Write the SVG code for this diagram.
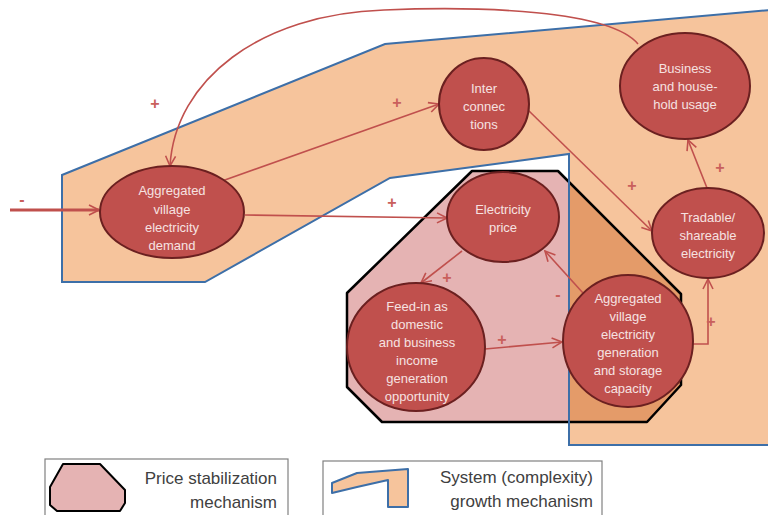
<svg xmlns="http://www.w3.org/2000/svg" width="768" height="515" viewBox="0 0 768 515">
<style>
.node{fill:#C0504D;stroke:#6B2020;stroke-width:2}
.nt{font-family:"Liberation Sans",Arial,sans-serif;font-size:13px;fill:#F6E2E1;text-anchor:middle}
.con{fill:none;stroke:#C0504D;stroke-width:1.6}
.sign{font-family:"Liberation Sans",Arial,sans-serif;font-size:16px;font-weight:bold;fill:#C9605C;text-anchor:middle}
.lg{font-family:"Liberation Sans",Arial,sans-serif;font-size:17px;fill:#404040;text-anchor:end}
</style>
<defs>
<marker id="ah" markerUnits="userSpaceOnUse" markerWidth="12" markerHeight="12" viewBox="0 0 12 12" refX="11" refY="6" orient="auto">
<path d="M1,1 L11,6 L1,11" fill="none" stroke="#C0504D" stroke-width="1.6"/>
</marker>
<clipPath id="growClip">
<polygon points="62,175 385,44 770,10 770,445 569,445 569,154 390,178 205,282 62,282"/>
</clipPath>
</defs>
<rect width="768" height="515" fill="#FFFFFF"/>
<g id="growth-mechanism">
<polygon points="62,175 385,44 770,10 770,445 569,445 569,154 390,178 205,282 62,282" fill="#F6C49C" stroke="none"/>
</g>
<g id="price-stabilization">
<polygon points="472,171 558,171 681,294 681,385 647,422 382,422 347,387 347,293" fill="#E5B3B3"/>
<polygon points="472,171 558,171 681,294 681,385 647,422 382,422 347,387 347,293" fill="#E49B69" clip-path="url(#growClip)"/>
<polygon points="472,171 558,171 681,294 681,385 647,422 382,422 347,387 347,293" fill="none" stroke="#000000" stroke-width="2.5" stroke-linejoin="round"/>
</g>
<g id="growth-outline">
<polygon points="62,175 385,44 770,10 770,445 569,445 569,154 390,178 205,282 62,282" fill="none" stroke="#3D6FA8" stroke-width="2"/>
</g>
<g id="connectors">
<line x1="10" y1="210" x2="99" y2="210" class="con" style="stroke-width:3" marker-end="url(#ah)"/>
<path d="M638,44 C610,10 480,6 384,10 C260,14 175,80 170,166" class="con" marker-end="url(#ah)"/>
<line x1="222" y1="181" x2="439" y2="104" class="con" marker-end="url(#ah)"/>
<line x1="245" y1="215" x2="447" y2="218" class="con" marker-end="url(#ah)"/>
<line x1="528" y1="110" x2="652" y2="231" class="con" marker-end="url(#ah)"/>
<line x1="707" y1="188" x2="688" y2="140" class="con" marker-end="url(#ah)"/>
<polyline points="693,344 708,344 708,279" class="con" marker-end="url(#ah)"/>
<line x1="462" y1="251" x2="421" y2="283" class="con" marker-end="url(#ah)"/>
<line x1="485" y1="349" x2="562" y2="342" class="con" marker-end="url(#ah)"/>
<line x1="583" y1="293" x2="545" y2="251" class="con" marker-end="url(#ah)"/>
<text x="22" y="205" class="sign">-</text>
<text x="155" y="109" class="sign">+</text>
<text x="397" y="108" class="sign">+</text>
<text x="392" y="208" class="sign">+</text>
<text x="632" y="191" class="sign">+</text>
<text x="720" y="173" class="sign">+</text>
<text x="711" y="327" class="sign">+</text>
<text x="447" y="283" class="sign">+</text>
<text x="502" y="345" class="sign">+</text>
<text x="558" y="300" class="sign">-</text>
</g>
<g id="node-demand">
<ellipse cx="172" cy="212" rx="72" ry="46" class="node"/>
<text class="nt"><tspan x="172" y="195">Aggregated</tspan><tspan x="172" y="214">village</tspan><tspan x="172" y="232">electricity</tspan><tspan x="172" y="250">demand</tspan></text>
</g>
<g id="node-interconnections">
<ellipse cx="484" cy="104" rx="45" ry="46" class="node"/>
<text class="nt"><tspan x="484" y="93">Inter</tspan><tspan x="484" y="111">connec</tspan><tspan x="484" y="129">tions</tspan></text>
</g>
<g id="node-business">
<ellipse cx="685" cy="86" rx="65" ry="53" class="node"/>
<text class="nt"><tspan x="685" y="73">Business</tspan><tspan x="685" y="91">and house-</tspan><tspan x="685" y="109">hold usage</tspan></text>
</g>
<g id="node-price">
<ellipse cx="503" cy="217" rx="56" ry="45" class="node"/>
<text class="nt"><tspan x="503" y="214">Electricity</tspan><tspan x="503" y="232">price</tspan></text>
</g>
<g id="node-tradable">
<ellipse cx="708" cy="233" rx="56" ry="45" class="node"/>
<text class="nt"><tspan x="708" y="222">Tradable/</tspan><tspan x="708" y="240">shareable</tspan><tspan x="708" y="258">electricity</tspan></text>
</g>
<g id="node-feedin">
<ellipse cx="416" cy="347" rx="69" ry="64" class="node"/>
<text class="nt"><tspan x="417" y="311">Feed-in as</tspan><tspan x="417" y="329">domestic</tspan><tspan x="417" y="347">and business</tspan><tspan x="417" y="365">income</tspan><tspan x="417" y="383">generation</tspan><tspan x="417" y="401">opportunity</tspan></text>
</g>
<g id="node-generation">
<ellipse cx="628" cy="341" rx="65" ry="66" class="node"/>
<text class="nt"><tspan x="628" y="303">Aggregated</tspan><tspan x="628" y="321">village</tspan><tspan x="628" y="339">electricity</tspan><tspan x="628" y="357">generation</tspan><tspan x="628" y="375">and storage</tspan><tspan x="628" y="393">capacity</tspan></text>
</g>
<g id="legend-price">
<rect x="45" y="459" width="243" height="60" fill="#FFFFFF" stroke="#808080" stroke-width="1.2"/>
<polygon points="63,464 100,464 125,490 125,503 120,511 57,511 50,505 50,487" fill="#E5B3B3" stroke="#000000" stroke-width="2" stroke-linejoin="round"/>
<text class="lg"><tspan x="277" y="484">Price stabilization</tspan><tspan x="277" y="508">mechanism</tspan></text>
</g>
<g id="legend-growth">
<rect x="323" y="461" width="279" height="60" fill="#FFFFFF" stroke="#808080" stroke-width="1.2"/>
<polygon points="332,483 357,473 408,469 408,507 388,507 388,480 357,487 332,493" fill="#F6C49C" stroke="#3D6FA8" stroke-width="2" stroke-linejoin="round"/>
<text class="lg"><tspan x="593" y="483">System (complexity)</tspan><tspan x="593" y="507">growth mechanism</tspan></text>
</g>
</svg>
